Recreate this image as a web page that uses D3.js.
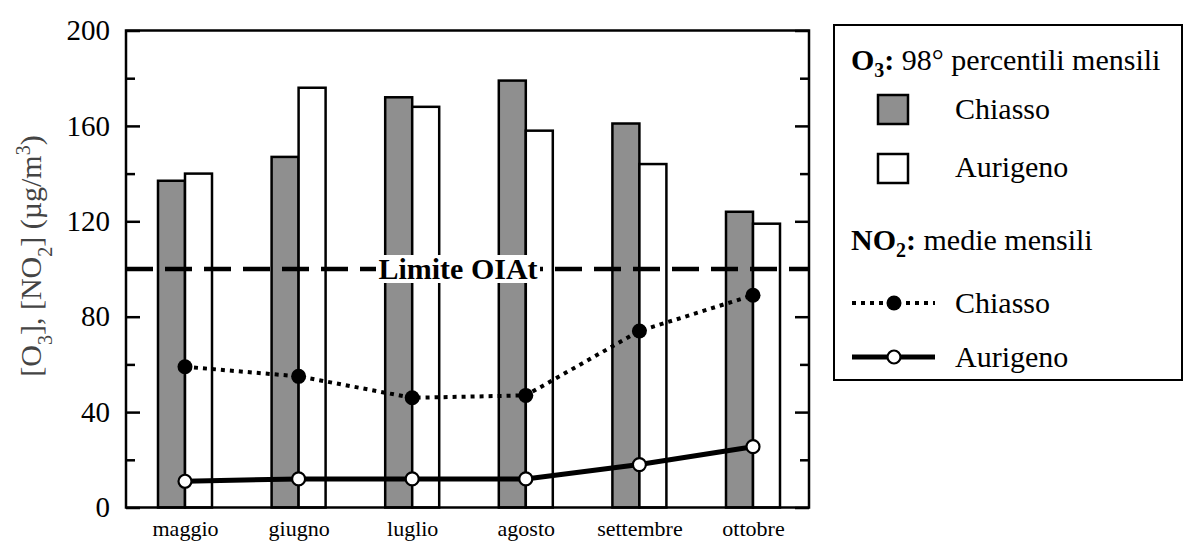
<!DOCTYPE html>
<html>
<head>
<meta charset="utf-8">
<script src="https://d3js.org/d3.v7.min.js"></script>
<style>
  body { margin: 0; background: #fff; }
  svg text { font-family: "Liberation Serif", "Times New Roman", serif; }
</style>
</head>
<body>
<script>
// dati
var mesi = ["maggio", "giugno", "luglio", "agosto", "settembre", "ottobre"];
var o3Chiasso  = [137, 147, 172, 179, 161, 124];
var o3Aurigeno = [140, 176, 168, 158, 144, 119];
var no2Chiasso  = [59, 55, 46, 47, 74, 89];
var no2Aurigeno = [11, 12, 12, 12, 18, 25.5];
var tickMaggiori = [0, 40, 80, 120, 160, 200];
var tickMinori   = [20, 60, 100, 140, 180];
var limiteOIAt = 100;

var width = 1184, height = 544;
var margin = { top: 30.5, bottom: 36.5, left: 126, right: 375 };
var x0 = margin.left, x1 = width - margin.right;   // 126 .. 809
var yTop = margin.top, yBot = height - margin.bottom;
var serif = "'Liberation Serif', 'Times New Roman', serif";

var svg = d3.select("body").append("svg")
    .attr("width", width)
    .attr("height", height);

var escalaY = d3.scaleLinear().domain([0, 200]).range([yBot, yTop]);
var escalaX = d3.scalePoint().domain(mesi).range([x0 + 59, x1 - 56]);
var barW = 27;

// barre O3
var gBarre = svg.append("g");
gBarre.selectAll("rect.chiasso")
    .data(o3Chiasso)
    .join("rect")
    .attr("class", "chiasso")
    .attr("x", function(d, i) { return escalaX(mesi[i]) - barW; })
    .attr("y", function(d) { return escalaY(d); })
    .attr("width", barW)
    .attr("height", function(d) { return yBot - escalaY(d); })
    .attr("fill", "#8f8f8f")
    .attr("stroke", "#000")
    .attr("stroke-width", 2.5);

gBarre.selectAll("rect.aurigeno")
    .data(o3Aurigeno)
    .join("rect")
    .attr("class", "aurigeno")
    .attr("x", function(d, i) { return escalaX(mesi[i]); })
    .attr("y", function(d) { return escalaY(d); })
    .attr("width", barW)
    .attr("height", function(d) { return yBot - escalaY(d); })
    .attr("fill", "#fff")
    .attr("stroke", "#000")
    .attr("stroke-width", 2.5);

// limite OIAt
svg.append("line")
    .attr("x1", x0).attr("x2", x1)
    .attr("y1", escalaY(limiteOIAt)).attr("y2", escalaY(limiteOIAt))
    .attr("stroke", "#000")
    .attr("stroke-width", 4.5)
    .attr("stroke-dasharray", "27,12");

var labelX = 458;
svg.append("rect")
    .attr("x", labelX - 82).attr("y", escalaY(limiteOIAt) - 14)
    .attr("width", 164).attr("height", 28)
    .attr("fill", "#fff");
svg.append("text")
    .attr("x", labelX)
    .attr("y", escalaY(limiteOIAt) + 10)
    .attr("text-anchor", "middle")
    .style("font-family", serif)
    .style("font-size", "30px")
    .style("font-weight", "bold")
    .text("Limite OIAt");

// linee NO2
var linea = d3.line()
    .x(function(d, i) { return escalaX(mesi[i]); })
    .y(function(d) { return escalaY(d); });

svg.append("path")
    .datum(no2Chiasso)
    .attr("d", linea)
    .attr("fill", "none")
    .attr("stroke", "#000")
    .attr("stroke-width", 4)
    .attr("stroke-dasharray", "4,5");

svg.append("path")
    .datum(no2Aurigeno)
    .attr("d", linea)
    .attr("fill", "none")
    .attr("stroke", "#000")
    .attr("stroke-width", 5);

svg.selectAll("circle.chiasso")
    .data(no2Chiasso)
    .join("circle")
    .attr("class", "chiasso")
    .attr("cx", function(d, i) { return escalaX(mesi[i]); })
    .attr("cy", function(d) { return escalaY(d); })
    .attr("r", 7.5)
    .attr("fill", "#000");

svg.selectAll("circle.aurigeno")
    .data(no2Aurigeno)
    .join("circle")
    .attr("class", "aurigeno")
    .attr("cx", function(d, i) { return escalaX(mesi[i]); })
    .attr("cy", function(d) { return escalaY(d); })
    .attr("r", 6.5)
    .attr("fill", "#fff")
    .attr("stroke", "#000")
    .attr("stroke-width", 2.2);

// assi (tacche verso l'interno)
var asseSx = svg.append("g")
    .attr("transform", "translate(" + x0 + ",0)")
    .call(d3.axisLeft(escalaY).tickValues(tickMaggiori).tickSize(-14).tickPadding(16).tickFormat(d3.format("d")));
var asseSxMin = svg.append("g")
    .attr("transform", "translate(" + x0 + ",0)")
    .call(d3.axisLeft(escalaY).tickValues(tickMinori).tickSize(-9).tickFormat(""));
var asseDx = svg.append("g")
    .attr("transform", "translate(" + x1 + ",0)")
    .call(d3.axisRight(escalaY).tickValues(tickMaggiori).tickSize(-14).tickFormat(""));
var asseDxMin = svg.append("g")
    .attr("transform", "translate(" + x1 + ",0)")
    .call(d3.axisRight(escalaY).tickValues(tickMinori).tickSize(-9).tickFormat(""));

[asseSx, asseSxMin, asseDx, asseDxMin].forEach(function(g) {
    g.select(".domain").remove();
    g.attr("font-family", null);
    g.selectAll(".tick line").attr("stroke", "#000").attr("stroke-width", 2.5);
});
asseSx.selectAll(".tick text")
    .attr("fill", "#000")
    .style("font-family", serif)
    .style("font-size", "29px");

var asseX = svg.append("g")
    .attr("transform", "translate(0," + yBot + ")")
    .call(d3.axisBottom(escalaX).tickSize(0).tickPadding(13));
asseX.select(".domain").remove();
asseX.attr("font-family", null);
asseX.selectAll(".tick text")
    .attr("fill", "#000")
    .style("font-family", serif)
    .style("font-size", "22px");

// cornice
svg.append("rect")
    .attr("x", x0).attr("y", yTop)
    .attr("width", x1 - x0).attr("height", yBot - yTop)
    .attr("fill", "none")
    .attr("stroke", "#000")
    .attr("stroke-width", 2.5);

// titolo asse Y
var titoloY = svg.append("text")
    .attr("transform", "translate(41,256) rotate(-90)")
    .attr("text-anchor", "middle")
    .attr("fill", "#444")
    .style("font-family", serif)
    .style("font-size", "30px");
titoloY.append("tspan").text("[O");
titoloY.append("tspan").attr("baseline-shift", "sub").style("font-size", "20px").text("3");
titoloY.append("tspan").text("], [NO");
titoloY.append("tspan").attr("baseline-shift", "sub").style("font-size", "20px").text("2");
titoloY.append("tspan").text("] (\u00b5g/m");
titoloY.append("tspan").attr("baseline-shift", "super").style("font-size", "20px").text("3");
titoloY.append("tspan").text(")");

// legenda
var leg = svg.append("g").style("font-family", serif);
leg.append("rect")
    .attr("x", 834).attr("y", 25)
    .attr("width", 348).attr("height", 355)
    .attr("fill", "#fff")
    .attr("stroke", "#000")
    .attr("stroke-width", 2);

var t1 = leg.append("text").attr("x", 851).attr("y", 70).style("font-size", "30px");
t1.append("tspan").style("font-weight", "bold").text("O");
t1.append("tspan").style("font-weight", "bold").style("font-size", "20px").attr("dy", 7).text("3");
t1.append("tspan").style("font-weight", "bold").attr("dy", -7).text(":");
t1.append("tspan").text(" 98\u00b0 percentili mensili");

leg.append("rect").attr("x", 878).attr("y", 95).attr("width", 30).attr("height", 29)
    .attr("fill", "#8f8f8f").attr("stroke", "#000").attr("stroke-width", 2.5);
leg.append("text").attr("x", 955).attr("y", 119).style("font-size", "30px").text("Chiasso");

leg.append("rect").attr("x", 878).attr("y", 154).attr("width", 30).attr("height", 29)
    .attr("fill", "#fff").attr("stroke", "#000").attr("stroke-width", 2.5);
leg.append("text").attr("x", 955).attr("y", 177).style("font-size", "30px").text("Aurigeno");

var t2 = leg.append("text").attr("x", 851).attr("y", 250).style("font-size", "30px");
t2.append("tspan").style("font-weight", "bold").text("NO");
t2.append("tspan").style("font-weight", "bold").style("font-size", "20px").attr("dy", 7).text("2");
t2.append("tspan").style("font-weight", "bold").attr("dy", -7).text(":");
t2.append("tspan").text(" medie mensili");

leg.append("line").attr("x1", 852).attr("x2", 935).attr("y1", 303).attr("y2", 303)
    .attr("stroke", "#000").attr("stroke-width", 4).attr("stroke-dasharray", "4,5");
leg.append("circle").attr("cx", 894).attr("cy", 303).attr("r", 7.5).attr("fill", "#000");
leg.append("text").attr("x", 955).attr("y", 313).style("font-size", "30px").text("Chiasso");

leg.append("line").attr("x1", 852).attr("x2", 935).attr("y1", 357).attr("y2", 357)
    .attr("stroke", "#000").attr("stroke-width", 5);
leg.append("circle").attr("cx", 894).attr("cy", 357).attr("r", 6.5)
    .attr("fill", "#fff").attr("stroke", "#000").attr("stroke-width", 2.2);
leg.append("text").attr("x", 955).attr("y", 367).style("font-size", "30px").text("Aurigeno");
</script>
</body>
</html>
